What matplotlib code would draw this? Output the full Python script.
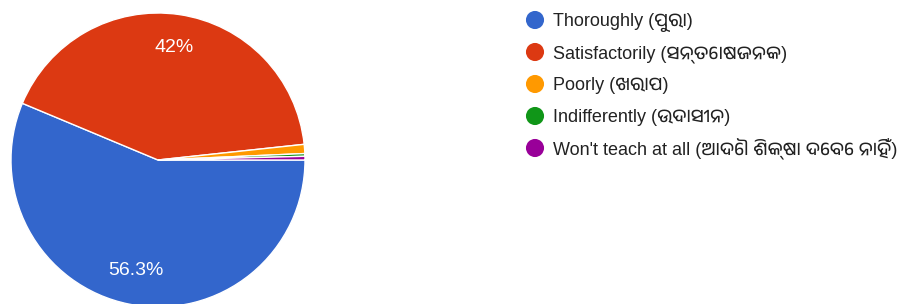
import matplotlib
matplotlib.use("Agg")
import matplotlib.pyplot as plt
from matplotlib import font_manager

labels = ["Thoroughly (ପୁରା)", "Satisfactorily (ସନ୍ତୋଷଜନକ)", "Poorly (ଖରାପ)",
          "Indifferently (ଉଦାସୀନ)", "Won't teach at all (ଆଦୌ ଶିକ୍ଷା ଦେବେ ନାହିଁ)"]
values = [56.3, 42.0, 1.0, 0.3, 0.4]
colors = ["#3366cc", "#dc3912", "#ff9900", "#109618", "#990099"]

# look for any installed font that covers Odia
odia = sorted({f.name for f in font_manager.fontManager.ttflist
               if "oriya" in f.name.lower() or "odia" in f.name.lower()})
families = ["Liberation Sans"] + odia + ["DejaVu Sans"]
plt.rcParams["font.family"] = families

fig = plt.figure(figsize=(9, 3.04), dpi=100)

ax = fig.add_axes([11 / 900, -3 / 304, 294 / 900, 294 / 304])
wedges, texts, autotexts = ax.pie(
    values, colors=colors, startangle=0, counterclock=False,
    autopct=lambda p: f"{p:.1f}%".replace(".0%", "%") if p > 5 else "",
    pctdistance=0.77, wedgeprops=dict(edgecolor="white", linewidth=1),
    textprops=dict(color="white", fontsize=14))
ax.set_xlim(-1, 1)
ax.set_ylim(-1, 1)
ax.set_aspect("equal")

# legend drawn by hand to place rows like the reference
lax = fig.add_axes([0, 0, 1, 1])
lax.set_xlim(0, 900)
lax.set_ylim(304, 0)
lax.axis("off")
for i, (lab, col) in enumerate(zip(labels, colors)):
    y = 20 + 32 * i
    lax.scatter(535, y, s=170, color=col, edgecolors="none")
    lax.text(553, y + 6.5, lab, va="baseline", ha="left", fontsize=13, color="#222222")

fig.savefig("out.png", dpi=100)
